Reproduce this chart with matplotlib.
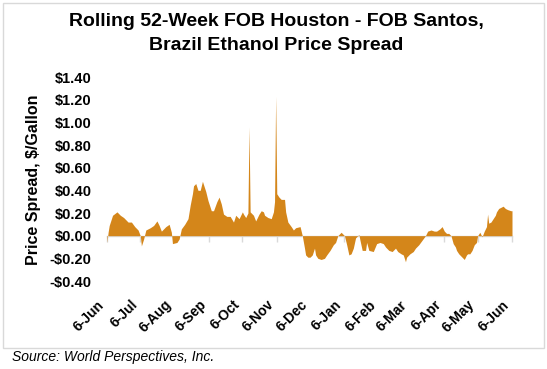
import numpy as np
import pandas as pd
import matplotlib
matplotlib.use('Agg')
import matplotlib.pyplot as plt
import matplotlib.dates as mdates
from matplotlib.patches import Rectangle

plt.rcParams['font.family'] = ['Liberation Sans', 'DejaVu Sans']

# days after 6-Jun and the spread in $/gallon
start = pd.Timestamp('2017-06-06')
day = [0, 1, 2, 4, 5, 9, 12, 15, 19, 22, 25, 28, 30, 31, 33, 35, 39, 42, 45, 47,
       49, 50, 53, 56, 58, 59, 63, 65, 67, 70, 73, 75, 77, 78, 80, 82, 84, 86, 87, 89,
       91, 94, 96, 99, 101, 103, 105, 108, 111, 114, 116, 119, 122, 123, 125, 127, 128, 129, 132, 134,
       137, 139, 141, 142, 145, 148, 150, 151, 152, 153, 155, 157, 160, 161, 163, 166, 168, 170, 174, 176,
       178, 179, 181, 183, 185, 187, 188, 190, 193, 196, 198, 201, 204, 206, 208, 211, 213, 214, 216, 218,
       220, 222, 224, 226, 227, 228, 230, 233, 234, 236, 240, 243, 246, 249, 251, 254, 257, 260, 262, 265,
       267, 269, 270, 273, 276, 278, 281, 284, 287, 289, 292, 295, 297, 300, 302, 304, 306, 308, 310, 312,
       314, 315, 317, 320, 322, 324, 325, 327, 329, 331, 333, 334, 336, 338, 340, 342, 343, 344, 346, 348,
       350, 351, 353, 355, 357, 359, 361, 364, 365]
spread = [-0.06, 0.03, 0.09, 0.15, 0.18, 0.21, 0.18, 0.16, 0.12, 0.12, 0.08, 0.05, 0.00, -0.09, -0.03, 0.05, 0.07, 0.09, 0.13, 0.09,
          0.04, 0.05, 0.08, 0.10, 0.03, -0.07, -0.06, -0.03, 0.06, 0.10, 0.15, 0.27, 0.37, 0.44, 0.46, 0.40, 0.40, 0.48, 0.45, 0.39,
          0.31, 0.22, 0.22, 0.30, 0.34, 0.28, 0.19, 0.17, 0.17, 0.12, 0.18, 0.15, 0.21, 0.19, 0.16, 0.20, 0.96, 0.21, 0.18, 0.13,
          0.19, 0.22, 0.21, 0.18, 0.16, 0.15, 0.21, 0.30, 1.23, 0.37, 0.34, 0.32, 0.32, 0.21, 0.12, 0.08, 0.05, 0.07, 0.08, 0.00,
          -0.11, -0.17, -0.19, -0.19, -0.17, -0.11, -0.17, -0.20, -0.21, -0.20, -0.17, -0.13, -0.08, -0.06, 0.00, 0.03, 0.01, 0.00, -0.08, -0.17,
          -0.16, -0.11, -0.02, 0.00, 0.01, -0.04, -0.13, -0.13, -0.06, -0.13, -0.14, -0.07, -0.06, -0.07, -0.10, -0.13, -0.14, -0.11, -0.14, -0.16,
          -0.17, -0.23, -0.19, -0.16, -0.14, -0.11, -0.08, -0.04, 0.00, 0.04, 0.05, 0.04, 0.04, 0.06, 0.08, 0.04, 0.02, 0.02, 0.00, -0.07,
          -0.10, -0.13, -0.16, -0.19, -0.21, -0.17, -0.16, -0.16, -0.13, -0.08, -0.06, 0.00, 0.03, -0.01, 0.04, 0.08, 0.19, 0.11, 0.12, 0.15,
          0.18, 0.21, 0.24, 0.25, 0.26, 0.24, 0.23, 0.22, 0.22]
tick_labels = ['6-Jun', '6-Jul', '6-Aug', '6-Sep', '6-Oct', '6-Nov', '6-Dec',
               '6-Jan', '6-Feb', '6-Mar', '6-Apr', '6-May', '6-Jun']
y_ticks = [-0.4, -0.2, 0.0, 0.2, 0.4, 0.6, 0.8, 1.0, 1.2, 1.4]

dates = start + pd.to_timedelta(day, unit='D')
x = mdates.date2num(dates)
tick_dates = pd.date_range(start, periods=len(tick_labels), freq=pd.DateOffset(months=1))
tick_x = mdates.date2num(tick_dates)

W, H = 547, 369
fig = plt.figure(figsize=(W / 100, H / 100), dpi=100)
ax = fig.add_axes([107 / W, 1 - 281 / H, 405 / W, 204 / H])

ax.fill_between(x, 0, spread, color='#D4861A', lw=0)
ax.set_xlim(tick_x[0], tick_x[-1])
ax.set_ylim(-0.4, 1.4)

for s in ax.spines.values():
    s.set_visible(False)

ax.set_yticks(y_ticks)
ax.set_yticklabels([('-$%.2f' % -v) if v < -1e-9 else ('$%.2f' % v) for v in y_ticks])
ax.tick_params(axis='y', length=0, pad=11, labelsize=10.5)
ax.set_xticks(tick_x)
ax.set_xticklabels(tick_labels, rotation=45, ha='right')
ax.tick_params(axis='x', length=0, pad=12, labelsize=10)
for lab in ax.get_xticklabels() + ax.get_yticklabels():
    lab.set_fontweight('bold')

# zero axis line with tick marks
sec = ax.secondary_xaxis(0.4 / 1.8)
sec.set_xticks(tick_x)
sec.tick_params(length=4, width=1, color='#D9D9D9', labelbottom=False)
sec.spines['bottom'].set_color('#D9D9D9')
sec.spines['bottom'].set_linewidth(1)

fig.text(276 / W, 1 - 21 / H, 'Rolling 52-Week FOB Houston - FOB Santos,',
         ha='center', va='center', fontsize=14, fontweight='bold')
fig.text(276 / W, 1 - 45 / H, 'Brazil Ethanol Price Spread',
         ha='center', va='center', fontsize=14, fontweight='bold')
fig.text(34 / W, 1 - 180 / H, 'Price Spread, $/Gallon', rotation=90,
         ha='center', va='center', fontsize=11.5, fontweight='bold')
fig.text(12 / W, 1 - 357 / H, 'Source: World Perspectives, Inc.',
         ha='left', va='center', fontsize=10, style='italic')

fig.patches.append(Rectangle((3 / W, 1 - 348 / H), 541 / W, 345 / H, transform=fig.transFigure,
                             fill=False, edgecolor='#D9D9D9', lw=1))

fig.savefig('out.png', dpi=100)
